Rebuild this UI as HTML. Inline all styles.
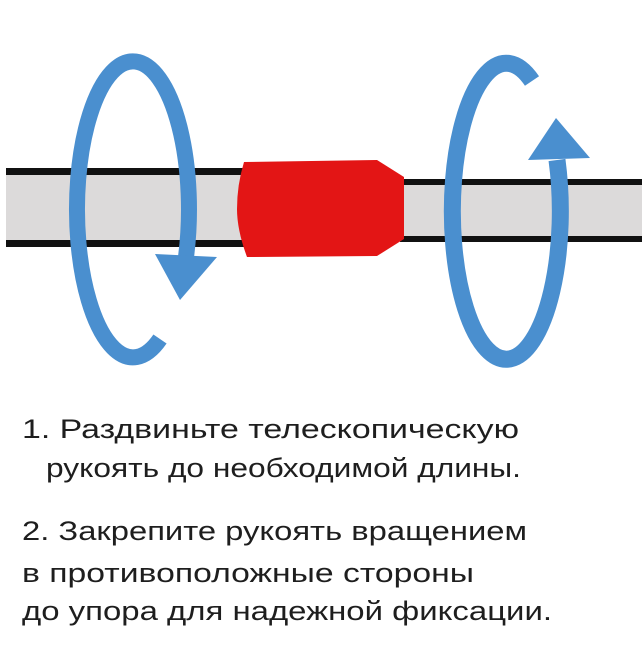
<!DOCTYPE html>
<html><head><meta charset="utf-8"><style>
html,body{margin:0;padding:0;background:#fff;}
svg{display:block}
text{font-family:"Liberation Sans",sans-serif;font-size:27px;fill:#1e1e1e;}
</style></head><body>
<svg width="642" height="653" viewBox="0 0 642 653" xmlns="http://www.w3.org/2000/svg">
<!-- left pipe -->
<rect x="6" y="168" width="240" height="79" fill="#dcdada"/>
<rect x="6" y="168" width="240" height="7" fill="#111"/>
<rect x="6" y="240" width="240" height="7" fill="#111"/>
<!-- right pipe -->
<rect x="400" y="179" width="242" height="62" fill="#dcdada"/>
<rect x="400" y="179" width="242" height="6" fill="#111"/>
<rect x="400" y="236" width="242" height="6" fill="#111"/>
<!-- red coupling -->
<path d="M244 162 L377 160 L404 177 L404 239 L377 256 L247 257 Q237 230 237 209 Q237 185 244 162 Z" fill="#e31515"/>
<!-- left loop -->
<path d="M160 339 A56 148 0 1 1 186 257" fill="none" stroke="#4a8fcf" stroke-width="16"/>
<polygon points="155,254 217,257 180,300" fill="#4a8fcf"/>
<!-- right loop -->
<path d="M532 81 A54 148 0 1 0 557 160" fill="none" stroke="#4a8fcf" stroke-width="17"/>
<polygon points="528,160 590,158 556,118" fill="#4a8fcf"/>
<!-- text -->
<text x="22" y="438" textLength="497" lengthAdjust="spacingAndGlyphs">1. Раздвиньте телескопическую</text>
<text x="46" y="477" textLength="475" lengthAdjust="spacingAndGlyphs">рукоять до необходимой длины.</text>
<text x="22" y="540" textLength="505" lengthAdjust="spacingAndGlyphs">2. Закрепите рукоять вращением</text>
<text x="22" y="582" textLength="452" lengthAdjust="spacingAndGlyphs">в противоположные стороны</text>
<text x="22" y="620" textLength="530" lengthAdjust="spacingAndGlyphs">до упора для надежной фиксации.</text>
</svg>
</body></html>
